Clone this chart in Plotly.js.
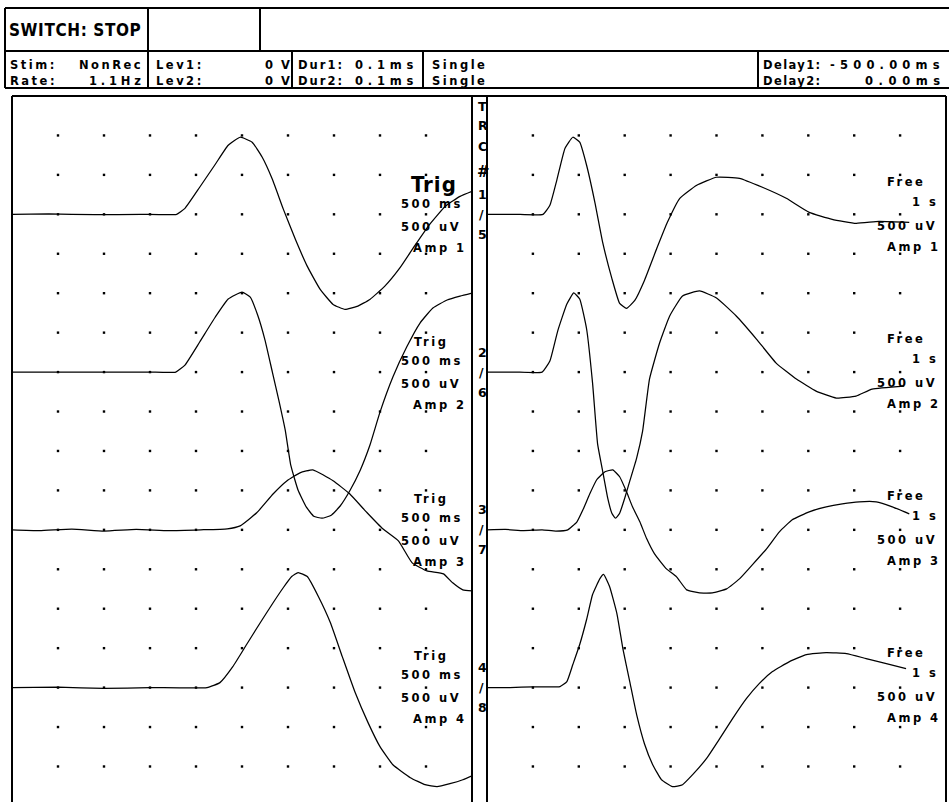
<!DOCTYPE html>
<html>
<head>
<meta charset="utf-8">
<script src="https://cdn.plot.ly/plotly-3.0.1.min.js"></script>
<style>
  html, body { margin: 0; padding: 0; background: #fff; }
  #chart { width: 949px; height: 802px; }
</style>
</head>
<body>
<div id="chart"></div>
<script>
// ---- Recorded sweeps (time in ms, amplitude in uV) ----
// Left window: triggered sweeps, 500 ms/div
const trig1Ms = [0, 400, 900, 1400, 1790, 1880, 2040, 2210, 2350, 2480, 2610, 2720, 2830, 2950, 3080, 3210, 3350, 3490, 3620, 3750, 3890, 4050, 4220, 4380, 4540, 4710, 4870, 5000];
const trig1Uv = [0, 5, -5, 0, 0, 76, 343, 635, 876, 977, 914, 723, 444, 63, -317, -660, -952, -1142, -1206, -1168, -1079, -914, -673, -394, -127, 102, 228, 292];

const trig2Ms = [0, 500, 1000, 1500, 1780, 1880, 2040, 2210, 2350, 2500, 2590, 2670, 2750, 2830, 2900, 2970, 3030, 3110, 3200, 3280, 3370, 3470, 3565, 3675, 3785, 3890, 4000, 4140, 4290, 4435, 4575, 4730, 4870, 5000];
const trig2Uv = [0, 0, 0, 0, 0, 89, 381, 698, 926, 1015, 950, 723, 406, 0, -355, -736, -1180, -1498, -1713, -1828, -1853, -1815, -1701, -1498, -1244, -928, -508, -63, 317, 622, 812, 914, 964, 1002];

const trig3Ms = [0, 300, 650, 1000, 1350, 1700, 2050, 2340, 2480, 2660, 2840, 2990, 3130, 3270, 3490, 3670, 3860, 4030, 4200, 4350, 4510, 4690, 4790, 4900, 5000];
const trig3Uv = [0, -10, 10, -15, 5, -10, 0, 13, 51, 216, 457, 622, 723, 761, 622, 457, 216, 13, -140, -419, -520, -558, -672, -761, -774];

const trig4Ms = [0, 500, 1000, 1500, 2120, 2260, 2400, 2550, 2700, 2840, 2950, 3040, 3110, 3210, 3330, 3460, 3590, 3730, 3870, 4000, 4140, 4330, 4490, 4620, 4760, 4900, 5000];
const trig4Uv = [0, 5, -10, 0, 0, 63, 266, 546, 825, 1079, 1269, 1408, 1459, 1408, 1155, 825, 393, -63, -444, -749, -978, -1142, -1231, -1256, -1218, -1168, -1117];

// Right window: free-running sweeps, 1 s/div
const free1Ms = [0, 600, 1220, 1370, 1520, 1700, 1870, 2020, 2170, 2350, 2520, 2720, 2890, 3040, 3220, 3430, 3700, 3930, 4200, 4570, 5000, 5500, 6000, 6520, 7020, 7520, 8040, 8540, 9200];
const free1Uv = [0, 0, 0, 114, 431, 838, 977, 914, 622, 152, -355, -812, -1129, -1193, -1091, -838, -431, -101, 203, 368, 470, 457, 343, 203, 25, -63, -114, -89, -101];

const free2Ms = [0, 600, 1200, 1370, 1540, 1740, 1890, 2020, 2170, 2300, 2410, 2520, 2630, 2720, 2800, 2890, 3000, 3110, 3260, 3390, 3540, 3760, 3980, 4260, 4630, 5000, 5430, 5870, 6300, 6740, 7170, 7610, 8040, 8390, 9090];
const free2Uv = [0, 0, 0, 140, 520, 863, 1003, 926, 546, -140, -914, -1256, -1599, -1789, -1853, -1789, -1599, -1383, -1091, -749, -89, 368, 711, 964, 1028, 939, 711, 419, 114, -89, -241, -330, -305, -216, -178];

const free3Ms = [0, 400, 800, 1200, 1500, 1760, 1960, 2090, 2240, 2390, 2570, 2740, 2890, 3040, 3170, 3330, 3480, 3650, 3910, 4130, 4350, 4630, 4910, 5220, 5500, 5780, 6090, 6370, 6650, 7020, 7390, 7740, 8110, 8480, 8830, 9200];
const free3Uv = [0, 5, -10, 0, -15, 0, 102, 254, 457, 635, 736, 761, 673, 482, 292, 102, -114, -305, -495, -596, -761, -799, -799, -749, -622, -444, -241, -25, 127, 228, 292, 330, 355, 355, 292, 203];

const free4Ms = [0, 500, 1000, 1590, 1740, 1870, 2020, 2170, 2300, 2460, 2540, 2670, 2830, 2960, 3110, 3260, 3430, 3610, 3800, 4040, 4260, 4480, 4780, 5070, 5350, 5650, 5930, 6220, 6590, 6960, 7390, 7830, 8260, 8700, 9130];
const free4Uv = [0, 0, 10, 13, 76, 292, 546, 863, 1180, 1382, 1434, 1282, 939, 495, 76, -343, -711, -977, -1167, -1256, -1231, -1104, -901, -647, -393, -140, 51, 203, 330, 419, 444, 431, 368, 305, 241];

// ---- Channel settings ----
const ampLabels = ['Amp 1', 'Amp 2', 'Amp 3', 'Amp 4'];
const trcFirst = ['1', '2', '3', '4'];
const trcSecond = ['5', '6', '7', '8'];
const channelRowDiv = [3, 7, 11, 15];     // baseline row of each channel (divisions from top)
const gainUvPerDiv = 500;
const leftMsPerDiv = 500;
const rightMsPerDiv = 1000;
const leftMode = 'Trig', rightMode = 'Free';
const leftTimebase = '500 ms', rightTimebase = '1 s', gainText = '500 uV';

// ---- Page geometry (pixels) ----
const W = 949, H = 802;
const fx = x => x / W;
const fy = y => 1 - y / H;
const gridTop = 96, rowPx = 39.44;
const divsVisible = (H - gridTop) / rowPx;

const traceStyle = { color: '#000', width: 1.25, shape: 'spline', smoothing: 0.4 };

function sweep(ms, uv, ch, xa) {
  return {
    type: 'scatter', mode: 'lines', x: ms,
    y: uv.map(v => channelRowDiv[ch] - v / gainUvPerDiv),
    xaxis: xa, yaxis: 'y', line: traceStyle, hoverinfo: 'skip'
  };
}

function dotGrid(msPerDiv, xa) {
  const gx = [], gy = [];
  for (let c = 1; c <= 9; c++) {
    for (let r = 1; r <= 17; r++) { gx.push(c * msPerDiv); gy.push(r); }
  }
  return {
    type: 'scatter', mode: 'markers', x: gx, y: gy, xaxis: xa, yaxis: 'y',
    marker: { symbol: 'square', size: 2.4, color: '#000', line: { width: 0 } },
    hoverinfo: 'skip'
  };
}

const data = [
  dotGrid(leftMsPerDiv, 'x'),
  dotGrid(rightMsPerDiv, 'x2'),
  sweep(trig1Ms, trig1Uv, 0, 'x'),
  sweep(trig2Ms, trig2Uv, 1, 'x'),
  sweep(trig3Ms, trig3Uv, 2, 'x'),
  sweep(trig4Ms, trig4Uv, 3, 'x'),
  sweep(free1Ms, free1Uv, 0, 'x2'),
  sweep(free2Ms, free2Uv, 1, 'x2'),
  sweep(free3Ms, free3Uv, 2, 'x2'),
  sweep(free4Ms, free4Uv, 3, 'x2')
];

// ---- Text ----
const CONDENSED = "'DejaVu Sans Condensed', 'Liberation Sans Narrow', Roboto, sans-serif";
const ann = [];
const spacing = [];
function txt(text, x, y, size, family, ls) {
  ann.push({
    text: text, xref: 'paper', yref: 'paper', x: fx(x), y: fy(y),
    xanchor: 'left', yanchor: 'middle', align: 'left', showarrow: false,
    font: { family: family || 'DejaVu Sans', size: size || 11.5, color: '#000', weight: 700 }
  });
  spacing.push(ls === undefined ? 2.5 : ls);
}

// status bar
txt('SWITCH: STOP', 7, 30, 17, CONDENSED, 0.6);
txt('Stim:', 8, 65); txt('NonRec', 77, 65);
txt('Rate:', 8, 81); txt('1.1Hz', 87, 81, 11.5, null, 3.8);
txt('Lev1:', 154, 65); txt('0 V', 263, 65, 11.5, null, 2);
txt('Lev2:', 154, 81); txt('0 V', 263, 81, 11.5, null, 2);
txt('Dur1:', 296, 65, 11.5, null, 2); txt('0.1ms', 353, 65, 11.5, null, 4.8);
txt('Dur2:', 296, 81, 11.5, null, 2); txt('0.1ms', 353, 81, 11.5, null, 4.8);
txt('Single', 430, 65); txt('Single', 430, 81);
txt('Delay1:', 761, 65, 11.5, null, 1.4); txt('-500.00ms', 828, 65, 11.5, null, 5.2);
txt('Delay2:', 761, 81, 11.5, null, 1.4); txt('0.00ms', 863, 81, 11.5, null, 5.6);

// per-channel captions
const labelBase = [185, 342, 499, 656];
for (let k = 0; k < 4; k++) {
  const b = labelBase[k];
  if (k === 0) txt(leftMode, 409, b - 1, 22, CONDENSED, 1);
  else txt(leftMode, 412, b);
  txt(leftTimebase, 399, b + 19);
  txt(gainText, 399, b + 42);
  txt(ampLabels[k], 411, b + 63);

  txt(rightMode, 885, b - 3);
  txt(rightTimebase, 910, b + 17);
  txt(gainText, 875, b + 41);
  txt(ampLabels[k], 885, b + 62);

  const base = gridTop + channelRowDiv[k] * rowPx;
  txt(trcFirst[k], 476, base - 20, 12.5, null, 0);
  txt('/', 477, base, 12.5, null, 0);
  txt(trcSecond[k], 476, base + 20, 12.5, null, 0);
}
txt('T', 476, 107, 12.5, null, 0); txt('R', 476, 126, 12.5, null, 0);
txt('C', 476, 147, 12.5, null, 0); txt('#', 475, 172, 15, null, 0);

// letter spacing of each caption
const css = document.createElement('style');
css.textContent = spacing.map((s, i) =>
  `g.annotation[data-index="${i}"] text { letter-spacing: ${s}px; }`).join('\n');
document.head.appendChild(css);

// ---- Frame lines ----
const shapes = [];
const ln = { color: '#000', width: 2 };
function seg(x0, y0, x1, y1) {
  shapes.push({ type: 'line', xref: 'paper', yref: 'paper',
    x0: fx(x0), y0: fy(y0), x1: fx(x1), y1: fy(y1), line: ln });
}
seg(5, 8, W, 8);
seg(5, 51, W, 51);
seg(5, 88, W, 88);
seg(12, 96, 946, 96);
[5, 148, 260].forEach(x => seg(x, 8, x, 51));
[5, 148, 292, 423, 758].forEach(x => seg(x, 51, x, 88));
[12, 472, 487, 946].forEach(x => seg(x, 96, x, H));

const layout = {
  width: W, height: H,
  margin: { l: 0, r: 0, t: 0, b: 0, pad: 0 },
  paper_bgcolor: '#fff', plot_bgcolor: 'rgba(0,0,0,0)',
  showlegend: false,
  xaxis: { domain: [fx(12), fx(472)], range: [0, 10 * leftMsPerDiv], visible: false, fixedrange: true },
  xaxis2: { domain: [fx(487), fx(946)], range: [0, 10 * rightMsPerDiv], visible: false, anchor: 'y', fixedrange: true },
  yaxis: { domain: [0, fy(gridTop)], range: [divsVisible, 0], visible: false, fixedrange: true },
  annotations: ann,
  shapes: shapes
};

Plotly.newPlot('chart', data, layout, { staticPlot: true, displayModeBar: false });
</script>
</body>
</html>
